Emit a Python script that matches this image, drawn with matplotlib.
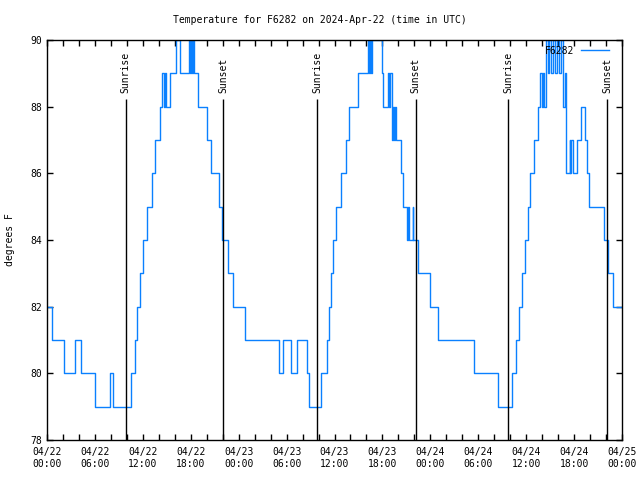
import matplotlib
matplotlib.use("Agg")
import matplotlib.pyplot as plt
import matplotlib.dates as mdates
import pandas as pd

# hours after 2024-04-22 00:00 UTC where the reading changes, and the new reading (F)
hours = [0.0, 0.66, 2.07, 3.51, 4.26, 6.05, 7.89, 8.26, 10.58, 10.96, 11.33, 11.65,
         11.98, 12.52, 13.11, 13.52, 14.15, 14.46, 14.65, 14.78, 14.96, 15.40, 16.12,
         16.65, 17.72, 17.91, 17.99, 18.16, 18.28, 18.41, 18.85, 20.0, 20.54, 21.48,
         21.88, 22.70, 23.29, 24.79, 29.05, 29.51, 30.55, 31.30, 32.59, 32.84, 34.25,
         35.0, 35.25, 35.5, 35.75, 36.19, 36.78, 37.38, 37.85, 38.91, 40.23, 40.38,
         40.48, 40.57, 40.70, 41.91, 42.11, 42.74, 42.86, 43.01, 43.14, 43.33, 43.45,
         43.61, 43.76, 44.27, 44.62, 45.04, 45.21, 45.37, 45.77, 45.89, 46.46, 47.96,
         48.9, 53.47, 56.47, 58.23, 58.69, 59.1, 59.44, 59.85, 60.19, 60.48, 60.92,
         61.42, 61.73, 61.92, 62.11, 62.23, 62.48, 62.73, 62.92, 63.11, 63.36, 63.61,
         63.80, 64.11, 64.30, 64.61, 64.8, 65.05, 65.43, 65.55, 65.62, 65.83, 66.33,
         66.83, 67.37, 67.58, 67.87, 69.75, 70.25, 70.87, 72.0]
temps = [82, 81, 80, 81, 80, 79, 80, 79, 80, 81, 82, 83,
         84, 85, 86, 87, 88, 89, 88, 89, 88, 89, 90,
         89, 90, 89, 90, 89, 90, 89, 88, 87, 86, 85,
         84, 83, 82, 81, 80, 81, 80, 81, 80, 79, 80,
         81, 82, 83, 84, 85, 86, 87, 88, 89, 90, 89,
         90, 89, 90, 89, 88, 89, 88, 89, 87, 88, 87,
         88, 87, 86, 85, 84, 85, 84, 85, 84, 83, 82,
         81, 80, 79, 80, 81, 82, 83, 84, 85, 86, 87,
         88, 89, 88, 89, 88, 90, 89, 90, 89, 90, 89,
         90, 89, 90, 88, 89, 86, 87, 86, 87, 86, 87,
         88, 87, 86, 85, 84, 83, 82, 82]

sunrise = ["2024-04-22 09:51", "2024-04-23 09:51", "2024-04-24 09:46"]
sunset = ["2024-04-22 22:02", "2024-04-23 22:10", "2024-04-24 22:11"]

start = pd.Timestamp("2024-04-22 00:00")
times = start + pd.to_timedelta(hours, unit="h")

plt.rcParams["font.family"] = "DejaVu Sans Mono"
plt.rcParams["font.size"] = 7

fig = plt.figure(figsize=(6.4, 4.8), dpi=100)
ax = fig.add_axes([47 / 640, 40 / 480, 575 / 640, 400 / 480])

ax.step(times, temps, where="post", color="#0a80ff", lw=1, label="F6282")

for t in sunrise:
    ax.vlines(pd.Timestamp(t), 78, 88.23, color="black", lw=1)
    ax.text(pd.Timestamp(t), 88.42, "Sunrise", rotation=90, ha="center", va="bottom")
for t in sunset:
    ax.vlines(pd.Timestamp(t), 78, 88.23, color="black", lw=1)
    ax.text(pd.Timestamp(t), 88.42, "Sunset", rotation=90, ha="center", va="bottom")

ax.set_xlim(start, pd.Timestamp("2024-04-25 00:00"))
ax.set_ylim(78, 90)
ax.set_yticks(range(78, 91, 2))
ax.xaxis.set_major_locator(mdates.HourLocator(byhour=range(0, 24, 6)))
ax.xaxis.set_minor_locator(mdates.HourLocator(byhour=range(0, 24, 2)))
ax.xaxis.set_major_formatter(mdates.DateFormatter("%m/%d\n%H:%M"))
ax.tick_params(which="both", direction="in", top=True, right=True, length=4, width=1)
ax.tick_params(axis="x", pad=5)
for s in ax.spines.values():
    s.set_linewidth(1)

ax.legend(loc="upper right", bbox_to_anchor=(0.977, 0.986), frameon=False,
          markerfirst=False, handlelength=2.9, borderaxespad=0, borderpad=0,
          handletextpad=0.7)

fig.text(0.5, 1 - 20 / 480, "Temperature for F6282 on 2024-Apr-22 (time in UTC)",
         ha="center", va="center")
fig.text(10 / 640, 0.5, "degrees F", rotation=90, ha="center", va="center")

fig.savefig("out.png", dpi=100)
